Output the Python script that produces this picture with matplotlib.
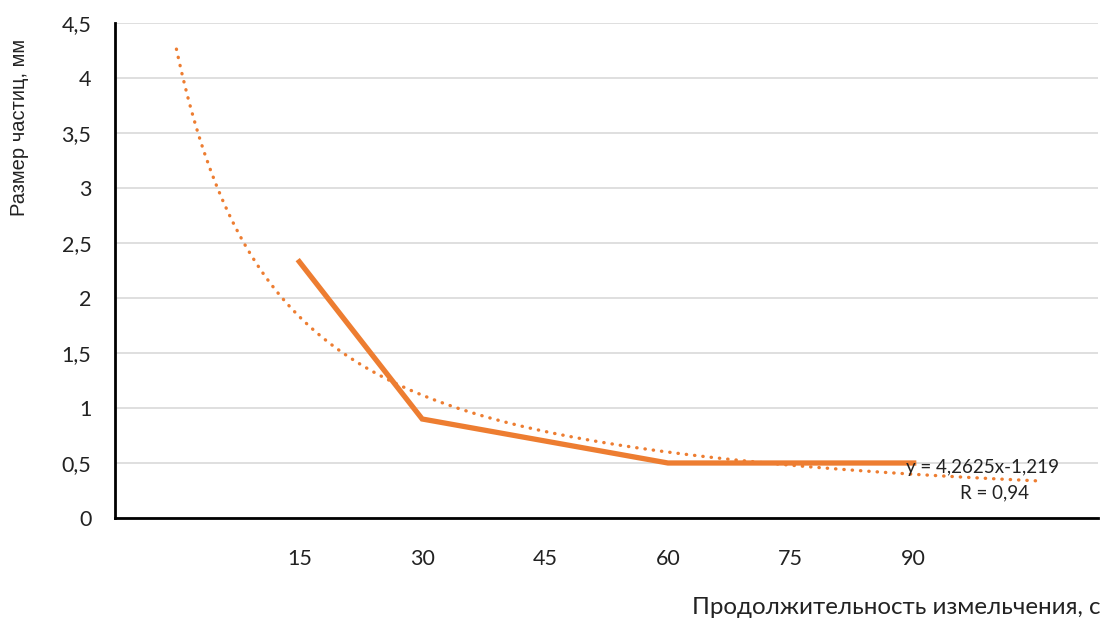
import numpy as np
import matplotlib.pyplot as plt

plt.rcParams['font.family'] = ['Lato', 'DejaVu Sans']

# categories on the x axis (first and last slots are empty)
categories = ["", "15", "30", "45", "60", "75", "90", ""]
size_mm = [None, 2.33, 0.9, 0.7, 0.5, 0.5, 0.5, None]

# power trendline y = a * x^b
trend_a = 4.2625
trend_b = -1.219

orange = "#ED7D31"

fig = plt.figure(figsize=(11.02, 6.22), dpi=100)
ax = fig.add_axes([115 / 1102, 1 - 518 / 622, (1098 - 115) / 1102, (518 - 23) / 622])

pos = np.arange(1, len(categories) + 1)
xs = [p for p, v in zip(pos, size_mm) if v is not None]
ys = [v for v in size_mm if v is not None]
ax.plot(xs, ys, color=orange, linewidth=3.8, solid_joinstyle="miter", zorder=3)

tx = np.linspace(pos[0], pos[-1], 300)
ax.plot(tx, trend_a * tx ** trend_b, color=orange, linewidth=2.4,
        linestyle=(0, (0.1, 2.4)), dash_capstyle="round", zorder=2)

ax.set_xlim(0.5, len(categories) + 0.5)
ax.set_ylim(0, 4.5)
ax.set_xticks(pos)
ax.set_xticklabels(categories)
ax.set_yticks(np.arange(0, 4.51, 0.5))
ax.set_yticklabels([f"{v:g}".replace(".", ",") for v in np.arange(0, 4.51, 0.5)])
ax.tick_params(axis="both", length=0, labelsize=15.5, colors="#222222")
ax.tick_params(axis="x", pad=22)
ax.tick_params(axis="y", pad=17)

ax.grid(axis="y", color="#d9d9d9", linewidth=1.2)
ax.set_axisbelow(True)
for s in ("top", "right"):
    ax.spines[s].set_visible(False)
for s in ("left", "bottom"):
    ax.spines[s].set_color("black")
    ax.spines[s].set_linewidth(2)

ax.text(7.56, 0.455, "y = 4,2625x-1,219", fontsize=13.5, ha="center", va="center", color="#222222")
ax.text(7.66, 0.227, "R = 0,94", fontsize=13.5, ha="center", va="center", color="#222222")

fig.text(20 / 1102, 1 - 127 / 622, "Размер частиц, мм", rotation=90, fontsize=14.5,
         family=["Liberation Sans", "DejaVu Sans"], ha="center", va="center", color="#222222")
fig.text(1100 / 1102, 1 - 607 / 622, "Продолжительность измельчения, с", fontsize=17.4,
         ha="right", va="center", color="#222222")

fig.savefig("out.png", dpi=100)
